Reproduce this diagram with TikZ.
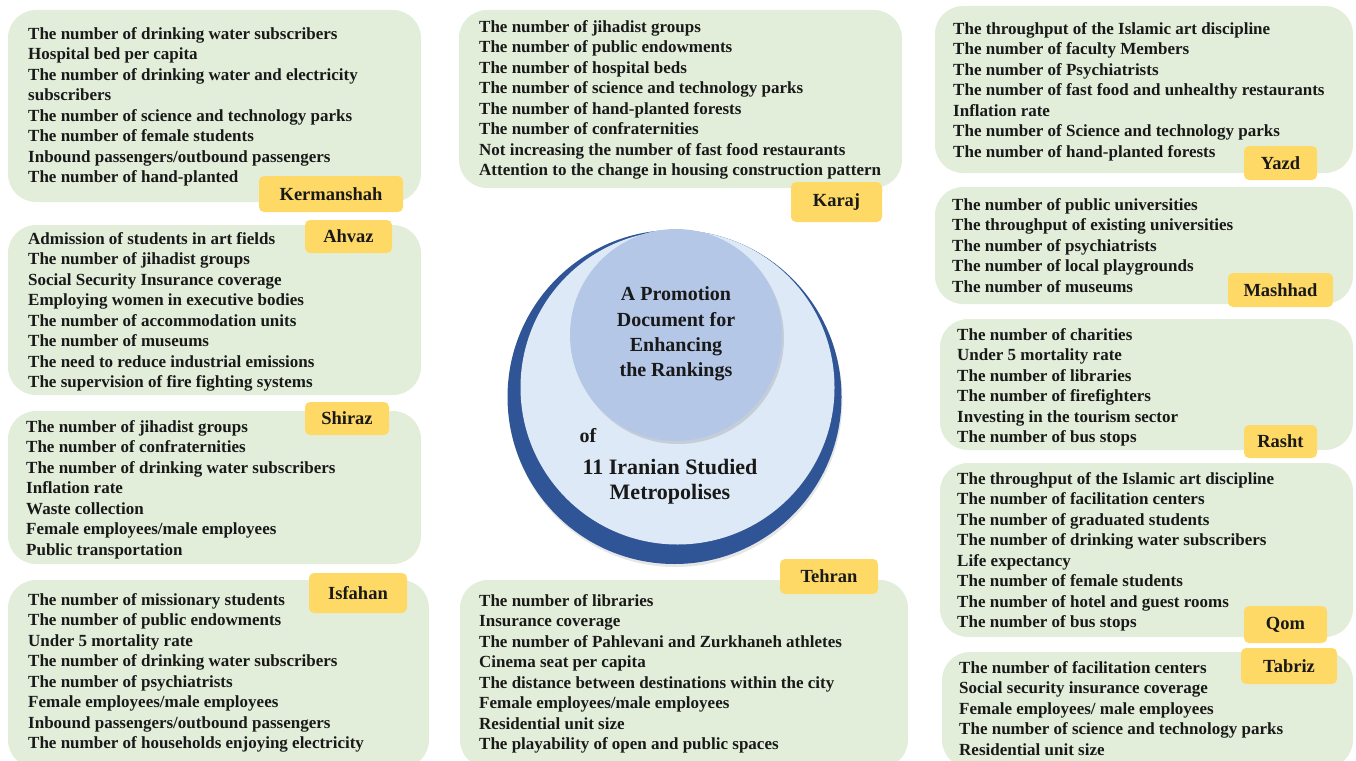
\documentclass[tikz,border=0pt]{standalone}
\usepackage{fontspec}
\setmainfont{Liberation Serif}
\usetikzlibrary{shapes,positioning,shadows}
\definecolor{boxgreen}{RGB}{226,238,218}
\definecolor{tabgold}{RGB}{255,217,102}
\definecolor{ringblue}{RGB}{47,85,151}
\definecolor{paleblue}{RGB}{221,233,246}
\definecolor{midblue}{RGB}{180,199,231}
\definecolor{ink}{RGB}{25,25,25}

\begin{document}
\begin{tikzpicture}[x=1pt,y=-1pt]
    \tikzstyle{box}=[rectangle, rounded corners=28pt, fill=boxgreen, inner sep=0pt]
    \tikzstyle{tab}=[rectangle, rounded corners=5pt, fill=tabgold, inner sep=0pt, text=ink, font=\fontsize{18.5}{20}\selectfont\bfseries]
    \tikzstyle{list}=[anchor=north west, inner sep=0pt, align=left, text=ink, font=\fontsize{17}{20.5}\selectfont\bfseries]
    \tikzstyle{centre}=[inner sep=0pt, align=center, text=ink]

    \useasboundingbox (0,0) rectangle (1356,760);

    % green boxes
    \node[box, minimum width=413pt, minimum height=192pt] (kerm) at (214.5,106) {};
    \node[box, minimum width=413pt, minimum height=170pt] (ahv) at (214.5,310) {};
    \node[box, minimum width=413pt, minimum height=153pt] (shi) at (214.5,487.5) {};
    \node[box, minimum width=421pt, minimum height=188pt] (isf) at (218.5,674) {};
    \node[box, minimum width=443pt, minimum height=178pt] (kar) at (680.5,99) {};
    \node[box, minimum width=448pt, minimum height=188pt] (teh) at (684,674) {};
    \node[box, minimum width=418pt, minimum height=167pt] (yaz) at (1144,89.5) {};
    \node[box, minimum width=418pt, minimum height=117pt] (mas) at (1144,245.5) {};
    \node[box, minimum width=413pt, minimum height=131pt] (ras) at (1146.5,384.5) {};
    \node[box, minimum width=413pt, minimum height=174pt] (qom) at (1146.5,550) {};
    \node[box, minimum width=411pt, minimum height=116pt] (tab) at (1147.5,710) {};

    % lists
    \node[list] (kermtxt) at (28,27) {The number of drinking water subscribers\\Hospital bed per capita\\The number of drinking water and electricity\\subscribers\\The number of science and technology parks\\The number of female students\\Inbound passengers/outbound passengers\\The number of hand-planted};
    \node[list] (ahvtxt) at (28,232) {Admission of students in art fields\\The number of jihadist groups\\Social Security Insurance coverage\\Employing women in executive bodies\\The number of accommodation units\\The number of museums\\The need to reduce industrial emissions\\The supervision of fire fighting systems};
    \node[list] (shitxt) at (26,420) {The number of jihadist groups\\The number of confraternities\\The number of drinking water subscribers\\Inflation rate\\Waste collection\\Female employees/male employees\\Public transportation};
    \node[list] (isftxt) at (28,593) {The number of missionary students\\The number of public endowments\\Under 5 mortality rate\\The number of drinking water subscribers\\The number of psychiatrists\\Female employees/male employees\\Inbound passengers/outbound passengers\\The number of households enjoying electricity};
    \node[list] (kartxt) at (479,20) {The number of jihadist groups\\The number of public endowments\\The number of hospital beds\\The number of science and technology parks\\The number of hand-planted forests\\The number of confraternities\\Not increasing the number of fast food restaurants\\Attention to the change in housing construction pattern};
    \node[list] (tehtxt) at (479,594) {The number of libraries\\Insurance coverage\\The number of Pahlevani and Zurkhaneh athletes\\Cinema seat per capita\\The distance between destinations within the city\\Female employees/male employees\\Residential unit size\\The playability of open and public spaces};
    \node[list] (yaztxt) at (953,22) {The throughput of the Islamic art discipline\\The number of faculty Members\\The number of Psychiatrists\\The number of fast food and unhealthy restaurants\\Inflation rate\\The number of Science and technology parks\\The number of hand-planted forests};
    \node[list] (mastxt) at (952,198) {The number of public universities\\The throughput of existing universities\\The number of psychiatrists\\The number of local playgrounds\\The number of museums};
    \node[list] (rastxt) at (957,328) {The number of charities\\Under 5 mortality rate\\The number of libraries\\The number of firefighters\\Investing in the tourism sector\\The number of bus stops};
    \node[list] (qomtxt) at (957,472) {The throughput of the Islamic art discipline\\The number of facilitation centers\\The number of graduated students\\The number of drinking water subscribers\\Life expectancy\\The number of female students\\The number of hotel and guest rooms\\The number of bus stops};
    \node[list] (tabtxt) at (959,661) {The number of facilitation centers\\Social security insurance coverage\\Female employees/ male employees\\The number of science and technology parks\\Residential unit size};

    % city tabs
    \node[tab, minimum width=144pt, minimum height=36pt] (kermtab) at (331,194) {Kermanshah};
    \node[tab, minimum width=87pt, minimum height=33pt] (ahvtab) at (348.5,236.5) {Ahvaz};
    \node[tab, minimum width=84pt, minimum height=33pt] (shitab) at (347,418.5) {Shiraz};
    \node[tab, minimum width=98pt, minimum height=40pt] (isftab) at (358,593) {Isfahan};
    \node[tab, minimum width=91pt, minimum height=40pt] (kartab) at (836.5,202) {Karaj};
    \node[tab, minimum width=98pt, minimum height=35pt] (tehtab) at (829,576.5) {Tehran};
    \node[tab, minimum width=73pt, minimum height=34pt] (yaztab) at (1280.5,163) {Yazd};
    \node[tab, minimum width=105pt, minimum height=34pt] (mastab) at (1280.5,290) {Mashhad};
    \node[tab, minimum width=73pt, minimum height=33pt] (rastab) at (1280.5,441.5) {Rasht};
    \node[tab, minimum width=83pt, minimum height=37pt] (qomtab) at (1285.5,624.5) {Qom};
    \node[tab, minimum width=96pt, minimum height=36pt] (tabtab) at (1289,666) {Tabriz};

    % centre circles
    \node[circle, fill=ringblue, inner sep=0pt, minimum size=334pt, drop shadow={opacity=0.2, shadow xshift=1pt, shadow yshift=-3pt}] (ring) at (674.5,397) {};
    \node[circle, fill=paleblue, inner sep=0pt, minimum size=314pt] (disc) at (677.5,387.5) {};
    \node[circle, fill=midblue, inner sep=0pt, minimum size=212pt, drop shadow={opacity=0.25, shadow xshift=2pt, shadow yshift=-3pt}] (core) at (676,335) {};

    \node[centre, font=\fontsize{20}{25.3}\selectfont\bfseries] (title) at (676,334) {A Promotion\\Document  for\\Enhancing\\the Rankings};
    \node[centre, font=\fontsize{20}{24}\selectfont\bfseries] (of) at (588,436) {of};
    \node[centre, font=\fontsize{22}{25}\selectfont\bfseries] (metro) at (670,482) {11 Iranian Studied\\Metropolises};

\end{tikzpicture}
\end{document}
